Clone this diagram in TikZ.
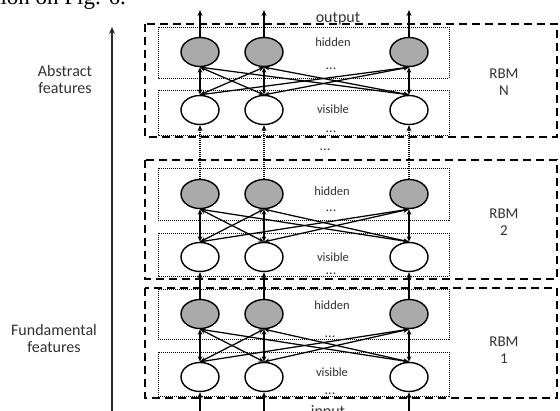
\documentclass[tikz,border=0pt]{standalone}
\usepackage{fontspec}
\setmainfont{Carlito}
\newfontfamily\docserif{Liberation Serif}
\usetikzlibrary{shapes.geometric,arrows.meta}
\definecolor{hidfill}{RGB}{170,170,170}
\definecolor{labelgray}{RGB}{50,50,50}
\definecolor{axisgray}{RGB}{40,40,40}
\begin{document}
\begin{tikzpicture}[x=1pt,y=-1pt,
  unit/.style={ellipse, draw=black, line width=1.4pt, minimum width=38pt, minimum height=29pt, inner sep=0pt},
  hidunit/.style={unit, fill=hidfill},
  visunit/.style={unit, fill=white},
  rbmframe/.style={draw=black, line width=1.5pt, dash pattern=on 8pt off 5pt},
  layerframe/.style={draw=black, line width=1pt, dash pattern=on 1pt off 1pt},
  tip/.style={-{Stealth[length=6pt,width=5pt]}},
  link/.style={{Stealth[length=5.5pt,width=4.5pt]}-{Stealth[length=5.5pt,width=4.5pt]}, line width=1.25pt},
  feed/.style={tip, line width=1.3pt},
  feeddot/.style={tip, line width=1.1pt, dash pattern=on 1pt off 1pt},
  axis/.style={draw=axisgray, line width=2pt, -{Stealth[length=7pt,width=6pt]}},
  sidelabel/.style={text=labelgray, font=\fontsize{16}{17}\selectfont, align=center},
  rbmlabel/.style={text=labelgray, font=\fontsize{15}{16.5}\selectfont, align=center},
  layerlabel/.style={text=labelgray, font=\fontsize{12.5}{14}\selectfont, inner sep=0pt},
  dotslabel/.style={text=labelgray, font=\fontsize{14}{15}\selectfont, inner sep=0pt, anchor=base},
  ]
\useasboundingbox (0,0) rectangle (560,410);

% running text of the page above the figure
\node[anchor=base east, inner sep=0pt, font=\docserif\fontsize{23}{25}\selectfont] (docline) at (126,4) {tion on Fig. 6.};

% RBM frames
\draw[rbmframe] (145,24) rectangle (557,137);
\draw[rbmframe] (145,160) rectangle (557,279);
\draw[rbmframe] (145,288) rectangle (557,398);

% hidden / visible layer frames
\draw[layerframe] (158,27) rectangle (449,78);
\draw[layerframe] (158,90) rectangle (449,135);
\draw[layerframe] (158,168) rectangle (449,220);
\draw[layerframe] (158,233) rectangle (449,276);
\draw[layerframe] (158,289) rectangle (449,339);
\draw[layerframe] (158,352) rectangle (449,396);

% units
\foreach \r/\yh/\yv in {N/52/110, 2/194/257, 1/314/377} {
  \foreach \c/\x in {1/200, 2/264, 3/409} {
    \node[hidunit] (h\r\c) at (\x,\yh) {};
    \node[visunit] (v\r\c) at (\x,\yv) {};
  }
}

% symmetric connections inside each RBM
\foreach \r in {N,2,1}
  \foreach \i in {1,2,3}
    \foreach \j in {1,2,3}
      \draw[link] (h\r\i.south) -- (v\r\j.north);

% feeds between the stacked machines
\foreach \c/\x in {1/200, 2/264, 3/409} {
  \coordinate (out\c) at (\x,10);
  \coordinate (in\c) at (\x,412);
  \draw[feed] (hN\c.north) -- (out\c);
  \draw[feeddot] (h2\c.north) -- (vN\c.south);
  \draw[feed] (h1\c.north) -- (v2\c.south);
  \draw[feed] (in\c) -- (v1\c.south);
}

% abstraction axis
\coordinate (axbot) at (112,412);
\coordinate (axtop) at (112,27);
\draw[axis] (axbot) -- (axtop);

% side labels
\node[sidelabel] (abstract) at (65,80) {Abstract\\features};
\node[sidelabel] (fundamental) at (54,338) {Fundamental\\features};

% RBM names
\node[rbmlabel] (rbmN) at (504,82) {RBM\\N};
\node[rbmlabel] (rbm2) at (504,222) {RBM\\2};
\node[rbmlabel] (rbm1) at (504,350) {RBM\\1};

% layer labels
\node[layerlabel] (hidN) at (333,42) {hidden};
\node[dotslabel] (dhN) at (331,69) {...};
\node[layerlabel] (visN) at (333,109) {visible};
\node[dotslabel] (dvN) at (331,132) {...};
\node[layerlabel] (hid2) at (332,191) {hidden};
\node[dotslabel] (dh2) at (331,211) {...};
\node[layerlabel] (vis2) at (333,257) {visible};
\node[dotslabel] (dv2) at (331,274) {...};
\node[layerlabel] (hid1) at (332,305) {hidden};
\node[dotslabel] (dh1) at (330,337) {...};
\node[layerlabel] (vis1) at (332,372) {visible};
\node[dotslabel] (dv1) at (330,394) {...};
\node[dotslabel] (dstack) at (325,150) {...};

% input and output
\node[text=labelgray, font=\fontsize{16}{17}\selectfont, anchor=base, inner sep=0pt] (output) at (338,22) {output};
\node[text=labelgray, font=\fontsize{16}{17}\selectfont, anchor=base, inner sep=0pt] (input) at (328,416) {input};
\end{tikzpicture}
\end{document}
